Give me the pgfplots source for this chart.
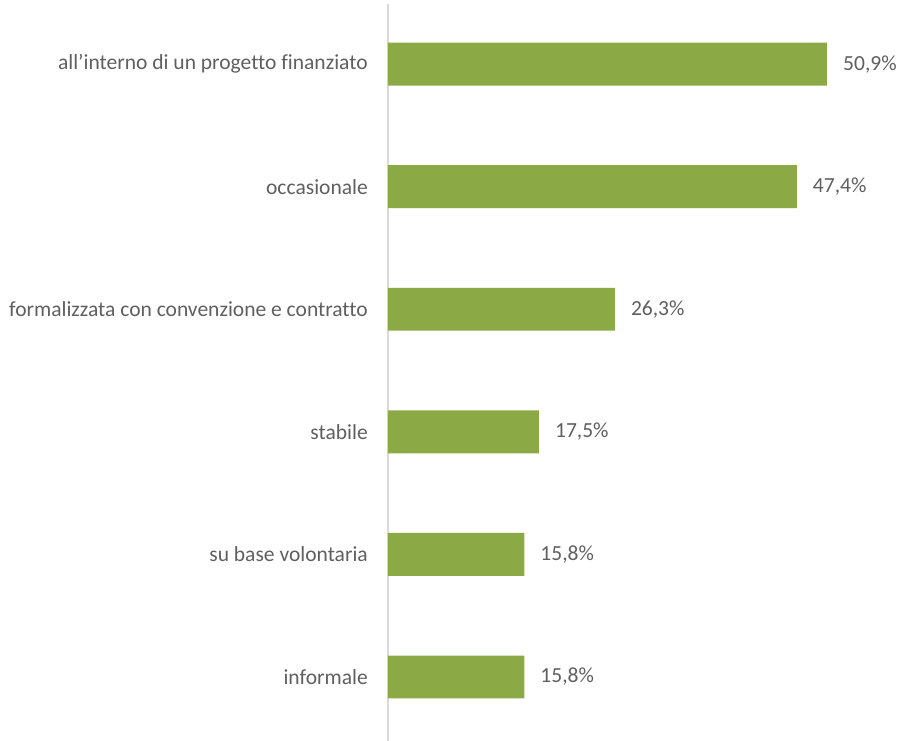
\documentclass[border=0pt]{standalone}
\usepackage{pgfplots}
\pgfplotsset{compat=1.18}
\usepackage{fontspec}
\setmainfont{Carlito}[Ligatures=NoCommon]
\definecolor{bargreen}{RGB}{139,170,70}
\definecolor{txtgray}{RGB}{95,95,95}
\definecolor{axgray}{RGB}{217,217,217}
\begin{document}
\begin{tikzpicture}
\begin{axis}[
    at={(0,0)}, anchor=south west,
    scale only axis,
    width=516bp, height=737bp,
    xbar, bar width=0.35,
    xmin=0, xmax=59.83,
    ymin=-0.522, ymax=5.49,
    hide x axis,
    axis y line*=left,
    y axis line style={draw=axgray, line width=1.3bp},
    ytick={0,1,2,3,4,5},
    yticklabels={informale, su base volontaria, stabile,
        formalizzata con convenzione e contratto, occasionale,
        all’interno di un progetto finanziato},
    major tick length=0pt,
    yticklabel style={font=\fontsize{21.6}{26}\selectfont, text=txtgray,
        anchor=east, inner sep=0pt, xshift=-20bp},
    nodes near coords={\pgfmathprintnumber{\pgfplotspointmeta}\%},
    every node near coord/.append style={
        /pgf/number format/assume math mode=true,
        /pgf/number format/use comma,
        /pgf/number format/fixed,
        /pgf/number format/fixed zerofill,
        /pgf/number format/precision=1,
        font=\fontsize{21.6}{26}\selectfont, text=txtgray,
        anchor=west, inner sep=0pt, xshift=16bp},
]
\addplot[fill=bargreen, draw=none] coordinates {
    (15.8,0)
    (15.8,1)
    (17.5,2)
    (26.3,3)
    (47.4,4)
    (50.9,5)
};
\end{axis}
\pgfresetboundingbox
\path (-388bp,0) rectangle (516bp,741bp);
\end{tikzpicture}
\end{document}
